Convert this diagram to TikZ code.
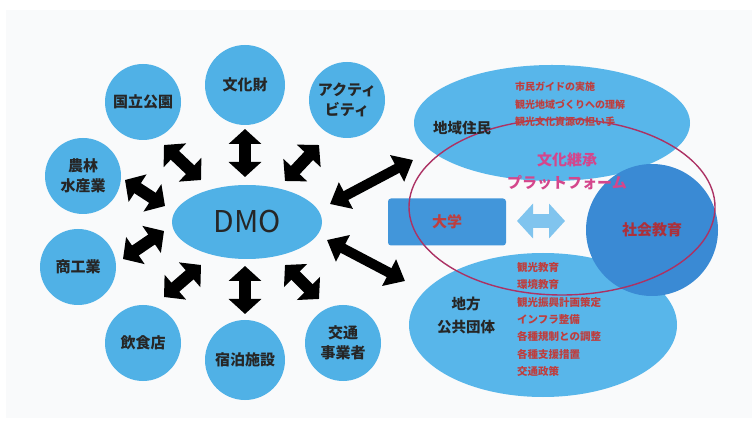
\documentclass[tikz,border=0pt]{standalone}
\usepackage{fontspec}
\setmainfont{Noto Sans CJK JP}
\usetikzlibrary{arrows.meta,calc,shapes.geometric}
\definecolor{sky}{RGB}{80,177,230}
\definecolor{skyL}{RGB}{88,182,234}
\definecolor{deep}{RGB}{58,138,212}
\definecolor{uni}{RGB}{66,150,218}
\definecolor{redtxt}{RGB}{190,62,62}
\definecolor{ring}{RGB}{172,50,100}
\definecolor{pinktxt}{RGB}{212,70,140}
\definecolor{lightarrow}{RGB}{128,196,238}
\definecolor{panel}{RGB}{249,250,251}
\begin{document}
\begin{tikzpicture}[x=1pt,y=-1pt,
  sat/.style={circle, fill=sky, minimum size=76pt, inner sep=0pt, align=center,
    font=\fontsize{15}{20}\selectfont\bfseries, text=black!85},
  fat/.style={line width=12pt, black,
    {Triangle[width=32pt,length=15pt]}-{Triangle[width=32pt,length=15pt]}},
  longfat/.style={line width=10pt, black,
    {Triangle[width=29pt,length=18pt]}-{Triangle[width=29pt,length=18pt]}},
  bigell/.style={ellipse, fill=skyL, inner sep=0pt},
  lbl/.style={font=\fontsize{14.5}{23}\selectfont\bfseries, text=black!85, align=center},
  redlist/.style={anchor=north west, align=left, inner sep=0pt, text=redtxt,
    font=\fontsize{10}{17.4}\selectfont\bfseries}
]
\useasboundingbox (0,0) rectangle (752,427);
\fill[white] (0,0) rectangle (752,427);
\fill[panel] (6,10) rectangle (752,418);

% satellites
\node[sat] (kokuritsu) at (143,102) {国立公園};
\node[sat, minimum size=80pt] (bunka) at (245,85) {文化財};
\node[sat] (activity) at (347,100) {アクティ\\ビティ};
\node[sat] (norin) at (83,176) {農林\\水産業};
\node[sat] (shoko) at (78,267) {商工業};
\node[sat] (inshoku) at (143,343) {飲食店};
\node[sat, minimum size=80pt] (shukuhaku) at (245,360) {宿泊施設};
\node[sat] (kotsu) at (343,343) {交通\\事業者};

% DMO
\node[ellipse, fill=sky, minimum width=150pt, minimum height=74pt, inner sep=0pt,
  font=\fontsize{30}{30}\selectfont, text=black!85] (dmo) at (247,222) {DMO};

% arrow end points
\coordinate (a1s) at (245,129); \coordinate (a1e) at (245,177);
\coordinate (a2s) at (245,266); \coordinate (a2e) at (245,314);
\coordinate (a3s) at (164,145); \coordinate (a3e) at (201,180);
\coordinate (a4s) at (319,145); \coordinate (a4e) at (285,181);
\coordinate (a5s) at (125,180); \coordinate (a5e) at (165,206);
\coordinate (a6s) at (123,259); \coordinate (a6e) at (164,231);
\coordinate (a7s) at (164,297); \coordinate (a7e) at (201,265);
\coordinate (a8s) at (319,299); \coordinate (a8e) at (285,265);
\coordinate (l1s) at (330,204); \coordinate (l1e) at (413,160);
\coordinate (l2s) at (327,240); \coordinate (l2e) at (405,281);

\foreach \i in {1,...,8} {\draw[fat] (a\i s) -- (a\i e);}
\draw[longfat] (l1s) -- (l1e);
\draw[longfat] (l2s) -- (l2e);

% right side
\node[bigell, minimum width=276pt, minimum height=116pt] (chiiki) at (552,123) {};
\node[bigell, minimum width=268pt, minimum height=144pt] (jichitai) at (543,325) {};
\node[rectangle, rounded corners=3pt, fill=uni, minimum width=118pt, minimum height=47pt,
  inner sep=0pt, text=redtxt, font=\fontsize{15}{15}\selectfont\bfseries] (daigaku) at (447,222) {大学};
\node[circle, fill=deep, minimum size=132pt, inner sep=0pt, text={rgb,255:red,172;green,48;blue,58},
  font=\fontsize{15}{15}\selectfont\bfseries] (shakai) at (652,230) {社会教育};
\coordinate (la1) at (517,221); \coordinate (la2) at (565,221);
\draw[line width=14pt, lightarrow,
  {Triangle[width=34pt,length=16pt]}-{Triangle[width=34pt,length=16pt]}] (la1) -- (la2);

\node[ellipse, draw=ring, line width=1.4pt, minimum width=306pt, minimum height=176pt,
  inner sep=0pt] (platform) at (562,207) {};

% texts
\node[lbl] (chiikiT) at (462,128) {地域住民};
\node[redlist] (chiikiL) at (515,82) {市民ガイドの実施\\観光地域づくりへの理解\\観光文化資源の担い手};
\node[lbl] (jichitaiT) at (466,315) {地方\\公共団体};
\node[redlist, font=\fontsize{10.5}{17.4}\selectfont\bfseries] (jichitaiL) at (517,262)
  {観光教育\\環境教育\\観光振興計画策定\\インフラ整備\\各種規制との調整\\各種支援措置\\交通政策};
\node[text=pinktxt, align=center, font=\fontsize{15}{23}\selectfont\bfseries] (platT) at (567,171)
  {文化継承\\プラットフォーム};
\end{tikzpicture}
\end{document}
